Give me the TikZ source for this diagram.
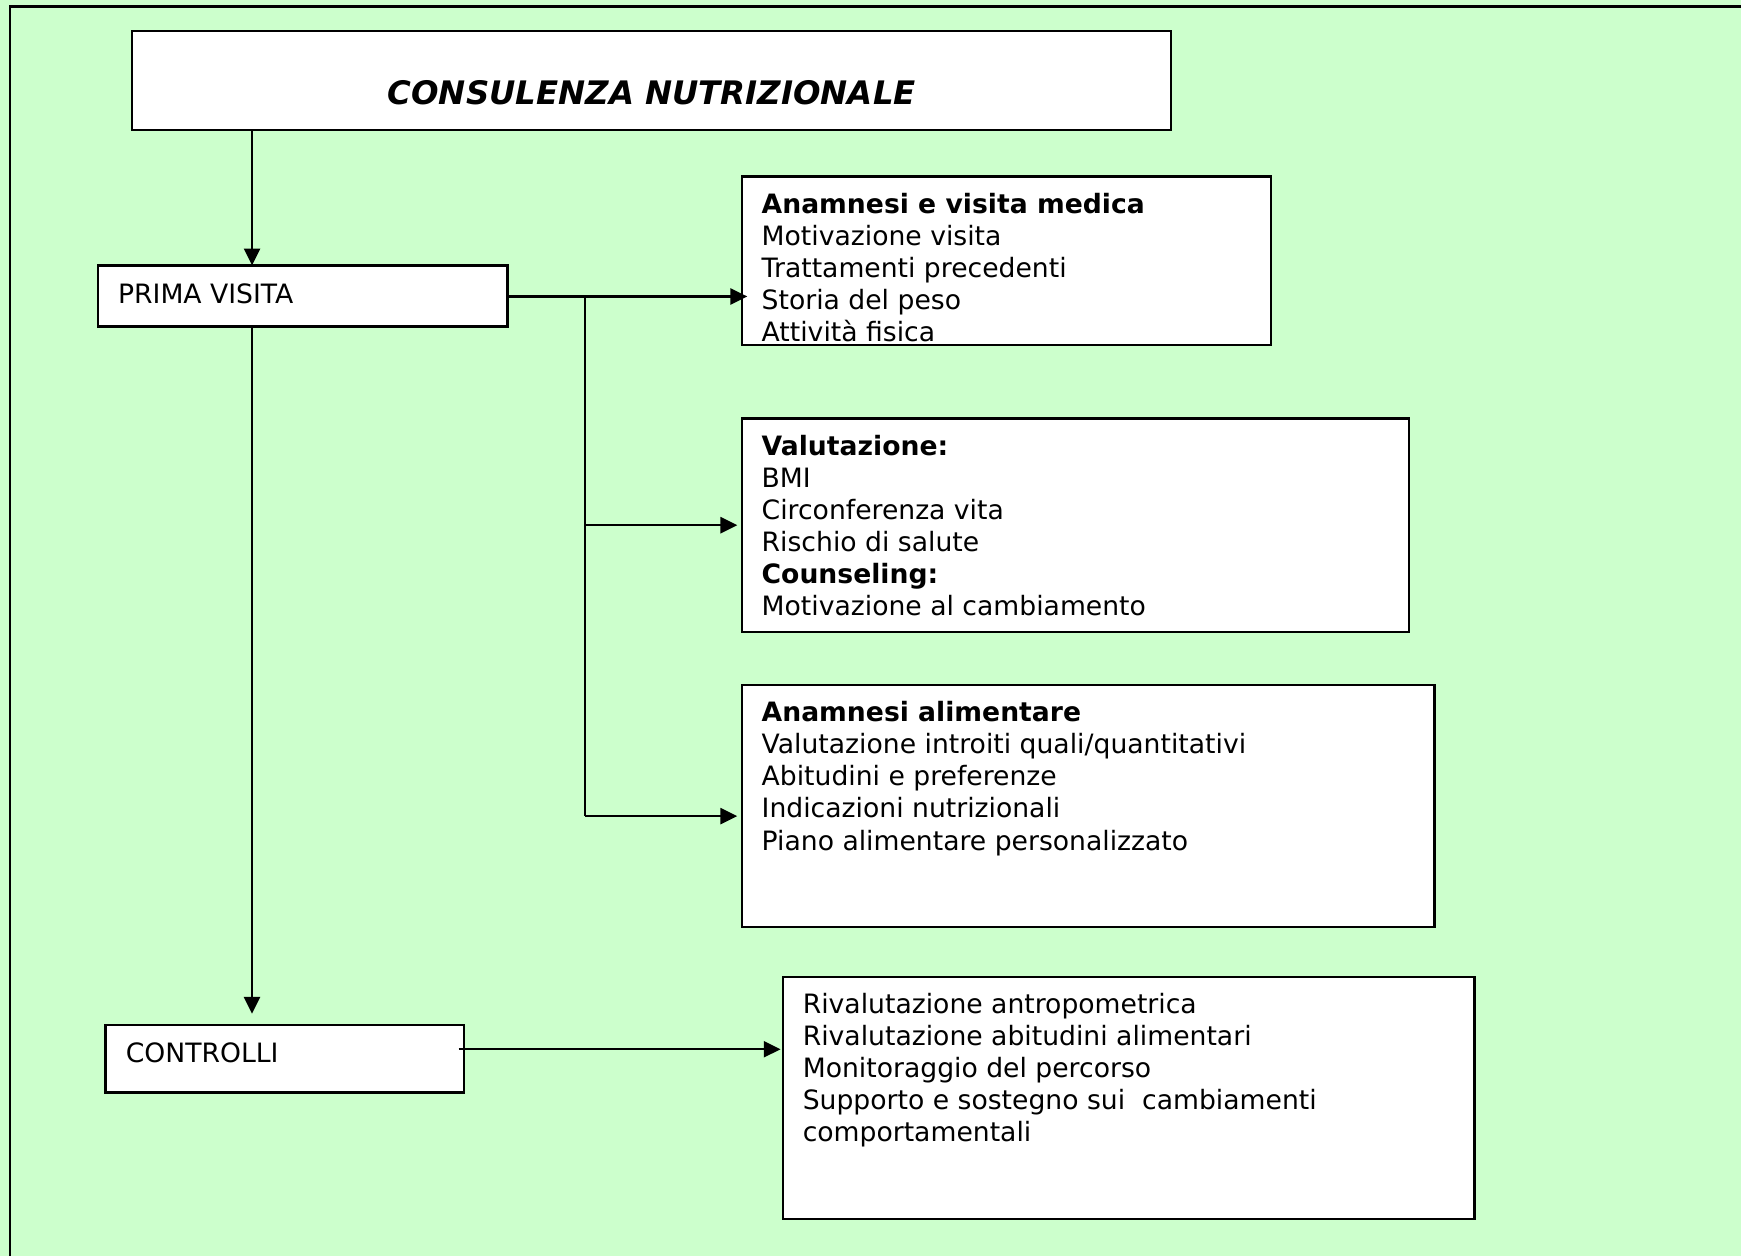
\documentclass[tikz,border=0pt]{standalone}
\usepackage{fontspec}
\setmainfont{DejaVu Sans}
\usetikzlibrary{arrows.meta}
\definecolor{bggreen}{HTML}{CCFFCC}
\begin{document}
\begin{tikzpicture}[x=0.02cm,y=-0.02cm,
  boxstyle/.style={draw=black,fill=white,line width=1.2pt,inner sep=0pt,outer sep=0pt,anchor=north west},
  bodytext/.style={inner sep=0pt,outer sep=0pt,align=left,anchor=north west,font=\fontsize{13.65pt}{16.44pt}\selectfont},
  conn/.style={line width=1.2pt},
  arr/.style={line width=1.2pt,-{Triangle[length=8.6pt,width=8.2pt]}}]
\useasboundingbox (0,0) rectangle (1568,1131);
\fill[bggreen] (0,0) rectangle (1568,1131);
\draw[line width=1.3pt] (9,1140) -- (9,6) -- (1580,6);

% boxes
\node[boxstyle,minimum width=18.72cm,minimum height=1.78cm] (title) at (119,28) {};
\node[boxstyle,minimum width=7.38cm,minimum height=1.10cm] (pv) at (88,239) {};
\node[boxstyle,minimum width=6.46cm,minimum height=1.22cm] (ct) at (95,923) {};
\node[boxstyle,minimum width=9.54cm,minimum height=3.04cm] (b1) at (668,159) {};
\node[boxstyle,minimum width=12.02cm,minimum height=3.84cm] (b2) at (668,377) {};
\node[boxstyle,minimum width=12.48cm,minimum height=4.36cm] (b3) at (668,617) {};
\node[boxstyle,minimum width=12.46cm,minimum height=4.36cm] (b4) at (705,880) {};

% texts
\node[inner sep=0pt,font=\fontsize{16.6pt}{19pt}\selectfont\bfseries\itshape] (titletext) at (587,83.6) {CONSULENZA NUTRIZIONALE};
\node[inner sep=0pt,anchor=base west,font=\fontsize{13.65pt}{16.44pt}\selectfont] (pvtext) at (106,273) {PRIMA VISITA};
\node[inner sep=0pt,anchor=base west,font=\fontsize{13.65pt}{16.44pt}\selectfont] (cttext) at (113,957) {CONTROLLI};

\node[bodytext] (t1) at (686,171.8) {\strut\textbf{Anamnesi e visita medica}\\Motivazione visita\\Trattamenti precedenti\\Storia del peso\\Attività fisica};
\node[bodytext] (t2) at (686,389.8) {\strut\textbf{Valutazione:}\\BMI\\Circonferenza vita\\Rischio di salute\\\textbf{Counseling:}\\Motivazione al cambiamento};
\node[bodytext] (t3) at (686,629.8) {\strut\textbf{Anamnesi alimentare}\\Valutazione introiti quali/quantitativi\\Abitudini e preferenze\\Indicazioni nutrizionali\\Piano alimentare personalizzato};
\node[bodytext] (t4) at (723,892.5) {\strut Rivalutazione antropometrica\\Rivalutazione abitudini alimentari\\Monitoraggio del percorso\\Supporto e sostegno sui\ \ cambiamenti\\comportamentali};

% connectors
\coordinate (spine) at (227,0);
\coordinate (br) at (527,267);
\coordinate (j2) at (527,473);
\coordinate (j3) at (527,735);
\coordinate (c4) at (413,945);

\draw[arr] (title.south -| spine) -- (pv.north -| spine);
\draw[arr,shorten >=0.2cm] (pv.south -| spine) -- (ct.north -| spine);
\draw[arr,shorten >=-0.1cm] (pv.east |- br) -- (br -| b1.west);
\draw[conn] (br) -- (j3);
\draw[arr,shorten >=0.08cm] (j2) -- (j2 -| b2.west);
\draw[arr,shorten >=0.08cm] (j3) -- (j3 -| b3.west);
\draw[arr,shorten >=0.04cm] (c4) -- (c4 -| b4.west);
\end{tikzpicture}
\end{document}
